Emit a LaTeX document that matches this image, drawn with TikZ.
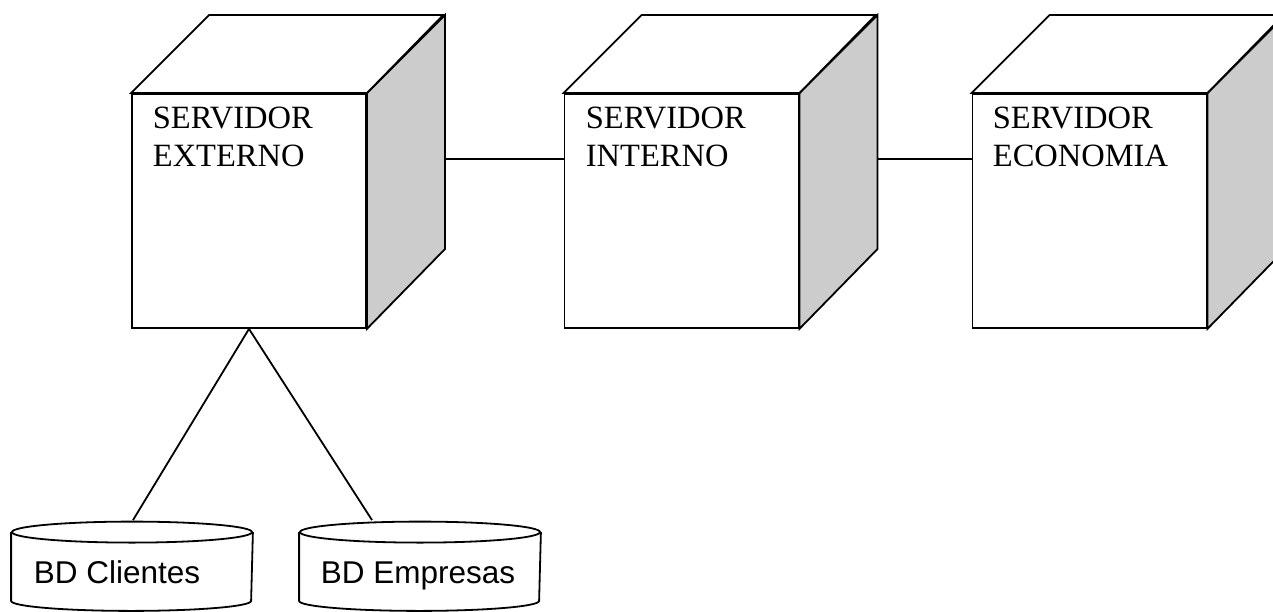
\documentclass[tikz,border=0pt]{standalone}
\usepackage{fontspec}
\setmainfont{Liberation Serif}
\setsansfont{Liberation Sans}
\usetikzlibrary{calc}
\definecolor{sidegray}{HTML}{CCCCCC}
\begin{document}
\begin{tikzpicture}[x=1pt,y=-1pt,line width=1.8pt,
  front/.style={draw,rectangle,minimum width=234pt,minimum height=234pt,inner sep=0pt,fill=white},
  srvtext/.style={anchor=base west,align=left,inner sep=0pt,font=\fontsize{32.5}{38.5}\selectfont},
  dbtext/.style={anchor=base west,inner sep=0pt,font=\sffamily\fontsize{31.5}{36}\selectfont},
  dbbox/.style={rectangle,minimum width=240pt,minimum height=88pt,inner sep=0pt},
  link/.style={draw,line width=1.8pt}]
\useasboundingbox (0,0) rectangle (1273,612);
\clip (0,0) rectangle (1273,612);
% servers
\node[front] (ext) at (249,211) {};
\node[front] (int) at (681.5,211) {};
\node[front] (eco) at (1089.5,211) {};
\foreach \n in {ext,int,eco}{
  \draw[fill=sidegray] (\n.north east) -- ++(78,-78) -- ++(0,234) -- (\n.south east) -- cycle;
  \draw[fill=white] (\n.north west) -- ++(78,-78) -- ++(234,0) -- (\n.north east) -- cycle;
}
\node[srvtext] (extlbl) at (152,167) {SERVIDOR\\EXTERNO};
\node[srvtext] (intlbl) at (585,167) {SERVIDOR\\INTERNO};
\node[srvtext] (ecolbl) at (992,167) {SERVIDOR\\ECONOMIA};
% databases
\node[dbbox] (cl) at (132,566) {};
\node[dbbox] (em) at (420,566) {};
\foreach \n in {cl,em}{
  \draw[fill=white] ($(\n.north west)+(0,11)$) -- ($(\n.south west)+(0,-10)$)
     arc[start angle=180,end angle=360,x radius=120pt,y radius=10pt]
     -- ($(\n.north east)+(0,11)$);
  \draw ($(\n.north)+(0,11)$) ellipse[x radius=120pt,y radius=10.5pt];
}
\node[dbtext] (cllbl) at (33,583) {BD Clientes};
\node[dbtext] (emlbl) at (320,583) {BD Empresas};
\coordinate (clend) at ($(cl.north)+(1,-1)$);
\coordinate (emend) at ($(em.north)+(-48,-1)$);
% connectors
\coordinate (a1) at ($(ext.north east)+(78,66)$);
\coordinate (a2) at ($(int.north east)+(78,66)$);
\draw[link] (a1) -- (a1 -| int.west);
\draw[link] (a2) -- (a2 -| eco.west);
\draw[link] (clend) -- (ext.south) -- (emend);
\end{tikzpicture}
\end{document}
